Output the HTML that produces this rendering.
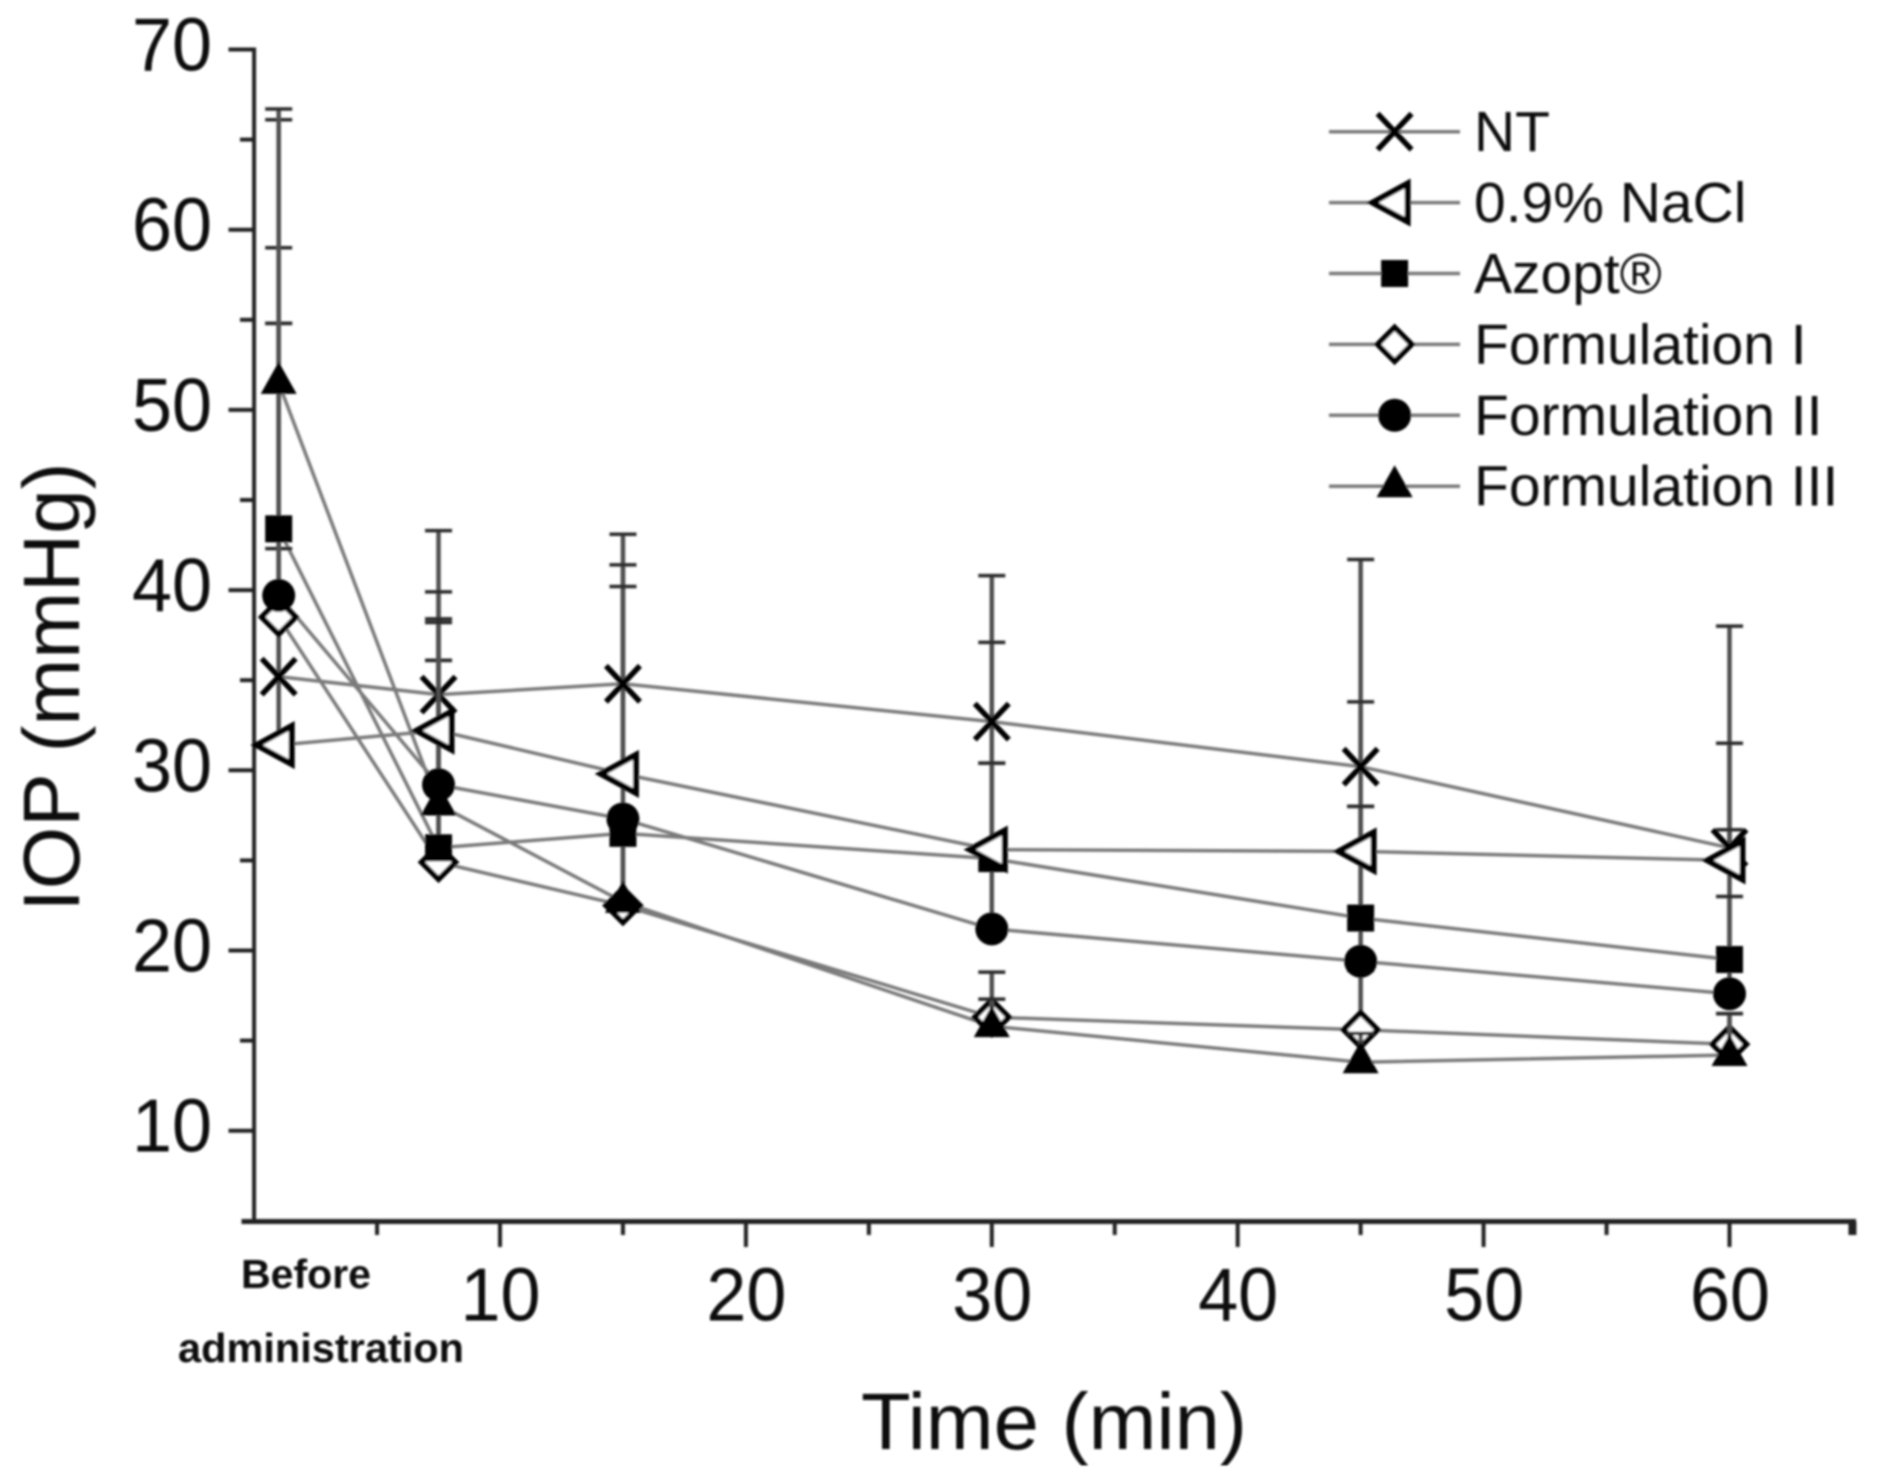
<!DOCTYPE html>
<html>
<head>
<meta charset="utf-8">
<title>IOP over time</title>
<style>
html,body{margin:0;padding:0;background:#fff;width:1877px;height:1483px;overflow:hidden}
svg{display:block}
text{font-family:"Liberation Sans",sans-serif;fill:#0c0c0c}
</style>
</head>
<body>
<svg id="chart" xmlns="http://www.w3.org/2000/svg" width="1877" height="1483" viewBox="0 0 1877 1483">
<defs><filter id="soft" x="-2%" y="-2%" width="104%" height="104%"><feGaussianBlur stdDeviation="1"/></filter></defs>
<rect width="1877" height="1483" fill="#fff"/>
<g id="root" filter="url(#soft)"></g>
</svg>
<script>
const times = [1, 7.5, 15, 30, 45, 60];
const seriesNames = ['NT', '0.9% NaCl', 'Azopt®', 'Formulation I', 'Formulation II', 'Formulation III'];
const seriesKeys = ['nt', 'nacl', 'azopt', 'formulation-1', 'formulation-2', 'formulation-3'];
const markerKinds = ['x', 'triLeft', 'square', 'diamond', 'circle', 'triUp'];
const ntValues = [35.2, 34.2, 34.8, 32.7, 30.2, 25.7];
const naclValues = [31.4, 32.2, 29.8, 25.6, 25.5, 25.0];
const azoptValues = [43.4, 25.7, 26.5, 25.1, 21.8, 19.5];
const form1Values = [38.5, 24.9, 22.5, 16.3, 15.6, 14.8];
const form2Values = [39.7, 29.2, 27.3, 21.2, 19.4, 17.6];
const form3Values = [51.5, 28.1, 22.7, 15.8, 13.8, 14.2];
const ntUpper = [59, 43.3, 43.1, 40.8, 41.7, 38];
const naclUpper = [42.3, 39.9, 41.4, 37.1, 33.8, 31.5];
const azoptUpper = [54.8, 36.1, 40.2, 30.4, 28, 26.7];
const form1Upper = [54.8, 36.1, 27.2, 18.8, 18.9, 16.5];
const form2Upper = [66.1, 38.4, 27.7, 30.4, 28, 23];
const form3Upper = [66.7, 38.2, 27.7, 17.3, 15.4, 16.5];
const yTicks = [10, 20, 30, 40, 50, 60, 70];
const yMinorTicks = [15, 25, 35, 45, 55, 65];
const xTicks = [10, 20, 30, 40, 50, 60];
const xMinorTicks = [5, 15, 25, 35, 45, 55, 65];
const allValues = [ntValues, naclValues, azoptValues, form1Values, form2Values, form3Values];
const allUpper = [ntUpper, naclUpper, azoptUpper, form1Upper, form2Upper, form3Upper];

const NS = 'http://www.w3.org/2000/svg';
const root = document.getElementById('root');
function xPos(t) { return 254.1 + t * 24.59; }
function yPos(v) { return 1130.7 - (v - 10) * 18.02; }
function make(tag, parent, attrs) {
  const el = document.createElementNS(NS, tag);
  for (const k in attrs) el.setAttribute(k, attrs[k]);
  parent.appendChild(el);
  return el;
}
function seg(parent, x1, y1, x2, y2, color, w) {
  return make('line', parent, { x1: x1, y1: y1, x2: x2, y2: y2, stroke: color, 'stroke-width': w });
}
function label(parent, str, x, y, size, anchor, len, weight) {
  const el = make('text', parent, { x: x, y: y, 'font-size': size, 'text-anchor': anchor });
  if (len) { el.setAttribute('textLength', len); el.setAttribute('lengthAdjust', 'spacingAndGlyphs'); }
  if (weight) el.setAttribute('font-weight', weight);
  el.textContent = str;
  return el;
}
function marker(parent, kind, cx, cy) {
  const g = make('g', parent, { transform: 'translate(' + cx + ' ' + cy + ')' });
  if (kind === 'x') {
    make('path', g, { d: 'M-17 -18L17 18M-17 18L17 -18', stroke: '#050505', 'stroke-width': 5.5, fill: 'none' });
  } else if (kind === 'triLeft') {
    make('path', g, { d: 'M-22 0L13 -19L13 19Z', stroke: '#050505', 'stroke-width': 6, fill: '#fff' });
  } else if (kind === 'square') {
    make('rect', g, { x: -13.5, y: -13.5, width: 27, height: 27, fill: '#000' });
  } else if (kind === 'diamond') {
    make('path', g, { d: 'M0 -17L17 0L0 17L-17 0Z', stroke: '#050505', 'stroke-width': 5.5, fill: '#fff' });
  } else if (kind === 'circle') {
    make('circle', g, { r: 16.5, fill: '#000' });
  } else {
    make('path', g, { d: 'M0 -21L18 11L-18 11Z', fill: '#000' });
  }
  return g;
}

/* axes */
const axes = make('g', root, {});


const yAxis = seg(axes, 254.1, 47.5, 254.1, 1222, '#222', 4);


const xAxis = seg(axes, 241.5, 1221.5, 1856, 1221.5, '#222', 5);



yTicks.forEach(function (v) {
  const t = seg(axes, 228.5, yPos(v), 254.1, yPos(v), '#222', 4);
  
  
  const l = label(axes, String(v), 212, yPos(v) + 21, 75, 'end', 80);
  
  
});
yMinorTicks.forEach(function (v) {
  const t = seg(axes, 240, yPos(v), 254.1, yPos(v), '#222', 4);
  
  
});
xTicks.forEach(function (v) {
  const t = seg(axes, xPos(v), 1221.5, xPos(v), 1247, '#222', 4);
  
  
  const l = label(axes, String(v), xPos(v) + 0.5, 1320.5, 75, 'middle', 80);
  
  
});
xMinorTicks.forEach(function (v) {
  const t = seg(axes, xPos(v), 1221.5, xPos(v), 1235, '#222', v === 65 ? 8 : 4);
  
  
});

const before = label(axes, 'Before', 241, 1288, 41, 'start', 130, 'bold');


const admin = label(axes, 'administration', 178, 1362, 41, 'start', 286, 'bold');


const xTitle = label(axes, 'Time (min)', 861, 1449, 80, 'start', 386);


const cut = make('rect', axes, { x: 840, y: 1468, width: 440, height: 15, fill: '#fff' });


const yTitle = label(axes, 'IOP (mmHg)', 0, 0, 80, 'middle', 449);
yTitle.setAttribute('transform', 'translate(79 687) rotate(-90)');



/* series lines */
const lineLayer = make('g', root, {});


allValues.forEach(function (vals, s) {
  const pts = vals.map(function (v, i) { return xPos(times[i]) + ',' + yPos(v); }).join(' ');
  const line = make('polyline', lineLayer, { points: pts, fill: 'none', stroke: '#7a7a7a', 'stroke-width': 3.5 });
  
  
});

/* error bars and markers, layered so filled markers stay solid */
const markLayer = make('g', root, {});


function drawBars(s) {
  allUpper[s].forEach(function (u, i) {
    const px = xPos(times[i]);
    const stem = seg(markLayer, px, yPos(allValues[s][i]), px, yPos(u), '#505050', 4.5);
    
    
    const cap = seg(markLayer, px - 13.5, yPos(u), px + 13.5, yPos(u), '#2a2a2a', 3.5);
    
    
  });
}
function drawPoints(s) {
  allValues[s].forEach(function (v, i) {
    const m = marker(markLayer, markerKinds[s], xPos(times[i]), yPos(v));
    
    
  });
}
[0, 1, 2, 3, 4].forEach(drawBars);
[0, 3].forEach(drawPoints);
drawBars(5);
[5, 2, 4, 1].forEach(drawPoints);

/* legend */
const legend = make('g', root, {});


seriesNames.forEach(function (name, s) {
  const rowY = 131.7 + s * 70.9;
  const row = make('g', legend, {});
  
  
  const ln = seg(row, 1329, rowY, 1460, rowY, '#7a7a7a', 3.5);
  
  
  const mk = marker(row, markerKinds[s], 1394.6, rowY);
  
  
  const tx = label(row, name, 1474, rowY + 19.5, 57, 'start');
  
  
});
</script>
</body>
</html>
